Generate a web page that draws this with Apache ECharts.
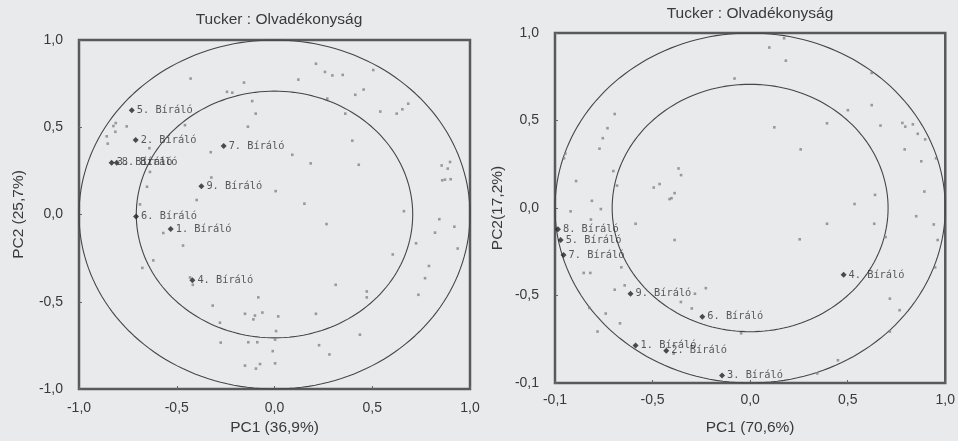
<!DOCTYPE html>
<html>
<head>
<meta charset="utf-8">
<script src="https://cdn.jsdelivr.net/npm/echarts@6/dist/echarts.min.js"></script>
<style>
html,body{margin:0;padding:0;background:#e9eaec;}
#c{width:958px;height:441px;}
</style>
</head>
<body>
<div id="c"></div>
<script>
// ---------- data ----------
const chartTitle = 'Tucker : Olvadékonyság';
const leftXName = 'PC1 (36,9%)';
const leftYName = 'PC2 (25,7%)';
const rightXName = 'PC1 (70,6%)';
const rightYName = 'PC2(17,2%)';
const leftXTickLabels = ['-1,0', '-0,5', '0,0', '0,5', '1,0'];
const leftYTickLabels = ['-1,0', '-0,5', '0,0', '0,5', '1,0'];
const rightXTickLabels = ['-0,1', '-0,5', '0,0', '0,5', '1,0'];
const rightYTickLabels = ['-0,1', '-0,5', '0,0', '0,5', '1,0'];
const circleRadii = [1, 0.707];

const assessorNames = ['1. Bíráló', '2. Bíráló', '3. Bíráló', '4. Bíráló', '5. Bíráló',
  '6. Bíráló', '7. Bíráló', '8. Bíráló', '9. Bíráló'];
const leftAssessors = [[-0.531, -0.083], [-0.710, 0.427], [-0.833, 0.297], [-0.420, -0.377],
  [-0.730, 0.597], [-0.708, -0.011], [-0.260, 0.393], [-0.807, 0.297], [-0.374, 0.162]];
const rightAssessors = [[-0.587, -0.785], [-0.430, -0.815], [-0.144, -0.957], [0.479, -0.382],
  [-0.971, -0.183], [-0.245, -0.621], [-0.956, -0.269], [-0.985, -0.122], [-0.613, -0.490]];

const leftVariables = [
  [-0.429, 0.779], [-0.156, 0.756], [-0.243, 0.703], [-0.216, 0.698], [-0.114, 0.650],
  [-0.096, 0.578], [-0.136, 0.503], [0.122, 0.773], [0.212, 0.864], [0.258, 0.817],
  [0.296, 0.797], [0.349, 0.800], [0.505, 0.828], [0.456, 0.716], [0.413, 0.686],
  [0.270, 0.664], [0.362, 0.578], [0.541, 0.590], [0.625, 0.578], [0.654, 0.603],
  [0.684, 0.635], [0.398, 0.423], [0.431, 0.285], [0.185, 0.293], [0.091, 0.342],
  [0.006, 0.134], [0.153, 0.062], [0.855, 0.281], [0.898, 0.301], [0.886, 0.263],
  [0.858, 0.196], [0.901, 0.202], [0.872, 0.200], [0.662, 0.019], [-0.812, 0.524],
  [-0.824, 0.507], [-0.814, 0.474], [-0.756, 0.505], [-0.858, 0.448], [-0.853, 0.406],
  [-0.640, 0.380], [-0.637, 0.244], [-0.652, 0.159], [-0.458, 0.512], [-0.326, 0.357],
  [-0.323, 0.212], [-0.398, 0.083], [-0.688, 0.058], [-0.569, -0.106], [-0.468, -0.178],
  [-0.620, -0.263], [-0.676, -0.306], [-0.432, -0.361], [-0.418, -0.403], [-0.083, -0.475],
  [-0.316, -0.522], [-0.151, -0.569], [-0.100, -0.579], [-0.062, -0.562], [-0.108, -0.601],
  [0.019, -0.584], [-0.279, -0.620], [0.008, -0.668], [0.003, -0.717], [-0.275, -0.734],
  [-0.134, -0.732], [-0.088, -0.732], [-0.009, -0.783], [-0.151, -0.866], [-0.095, -0.883],
  [-0.074, -0.857], [0.003, -0.853], [0.212, -0.569], [0.228, -0.749], [0.281, -0.802],
  [0.313, -0.403], [0.266, -0.055], [0.472, -0.441], [0.472, -0.475], [0.437, -0.689],
  [0.605, -0.229], [0.724, -0.165], [0.736, -0.460], [0.770, -0.365], [0.790, -0.295],
  [0.821, -0.104], [0.843, -0.027], [0.920, -0.070], [0.937, -0.195]
];

const rightVariables = [
  [0.098, 0.917], [0.183, 0.842], [-0.080, 0.740], [0.174, 0.970], [0.623, 0.772],
  [0.623, 0.588], [0.501, 0.559], [0.124, 0.461], [0.394, 0.484], [0.668, 0.471],
  [0.780, 0.486], [0.795, 0.465], [0.834, 0.478], [0.859, 0.424], [0.897, 0.392],
  [0.259, 0.335], [0.792, 0.335], [0.877, 0.267], [0.953, 0.284], [0.893, 0.094],
  [0.640, 0.075], [0.535, 0.023], [-0.694, 0.537], [-0.731, 0.456], [-0.755, 0.399],
  [-0.772, 0.339], [-0.947, 0.311], [-0.954, 0.284], [-0.701, 0.211], [-0.892, 0.154],
  [-0.682, 0.128], [-0.811, 0.041], [-0.765, -0.006], [-0.920, -0.019], [-0.367, 0.226],
  [-0.354, 0.188], [-0.494, 0.117], [-0.464, 0.137], [-0.387, 0.085], [-0.413, 0.051],
  [-0.403, 0.056], [-0.587, -0.090], [-0.387, -0.183], [-0.660, -0.339], [-0.853, -0.371],
  [-0.819, -0.371], [-0.694, -0.467], [-0.643, -0.442], [-0.283, -0.490], [-0.227, -0.458],
  [-0.355, -0.537], [-0.299, -0.574], [-0.824, -0.571], [-0.740, -0.603], [-0.667, -0.659],
  [-0.782, -0.706], [-0.392, -0.832], [-0.046, -0.716], [0.450, -0.870], [0.254, -0.179],
  [0.394, -0.090], [0.636, -0.090], [0.694, -0.166], [0.851, -0.047], [0.941, -0.094],
  [0.961, -0.183], [0.948, -0.339], [0.716, -0.518], [0.766, -0.584], [0.716, -0.706],
  [0.344, -0.945], [-0.816, -0.066]
];

// ---------- chart ----------
const AXMIN = -1, AXMAX = 1, STEP = 0.5;
function labelFmt(labels) {
  return function (v) { return labels[Math.round((v - AXMIN) / STEP)] || ''; };
}
function circlePoints(r) {
  const pts = [];
  for (let i = 0; i <= 360; i += 2) {
    const a = i * Math.PI / 180;
    pts.push([r * Math.cos(a), r * Math.sin(a)]);
  }
  return pts;
}
const textCol = '#3a3a3a';
const font = 'Liberation Sans, Arial, sans-serif';

function makeAxis(gridIndex, labels, name, margin, gap, isY) {
  const ax = {
    type: 'value', gridIndex, min: AXMIN, max: AXMAX, interval: STEP,
    name, nameLocation: 'middle', nameGap: gap,
    nameTextStyle: { color: textCol, fontSize: 15.5, fontFamily: font },
    axisLine: { show: false, onZero: false },
    axisTick: { show: true, inside: true, length: 3, lineStyle: { color: '#666' } },
    splitLine: { show: false },
    axisLabel: { formatter: labelFmt(labels), color: textCol, fontSize: 14, fontFamily: font, margin }
  };
  if (isY) ax.nameRotate = 90;
  return ax;
}

const series = [];
function addPanel(idx, variables, assessors) {
  circleRadii.forEach(function (r) {
    series.push({
      type: 'line', xAxisIndex: idx, yAxisIndex: idx, data: circlePoints(r),
      showSymbol: false, silent: true, smooth: false,
      lineStyle: { color: '#464646', width: 1.1 }, z: 2
    });
  });
  series.push({
    type: 'scatter', xAxisIndex: idx, yAxisIndex: idx, data: variables,
    symbol: 'rect', symbolSize: 2.6, silent: true,
    itemStyle: { color: '#858585' }, z: 3
  });
  series.push({
    type: 'scatter', xAxisIndex: idx, yAxisIndex: idx,
    data: assessors.map(function (p, i) { return { value: p, name: assessorNames[i] }; }),
    symbol: 'diamond', symbolSize: 6, silent: true,
    itemStyle: { color: '#222' }, z: 4,
    label: {
      show: true, position: 'right', distance: 2, formatter: '{b}',
      color: '#333', fontSize: 10.3, fontFamily: 'DejaVu Sans Mono, monospace'
    }
  });
}
addPanel(0, leftVariables, leftAssessors);
addPanel(1, rightVariables, rightAssessors);

const chart = echarts.init(document.getElementById('c'), null, { renderer: 'canvas' });
chart.setOption({
  backgroundColor: '#e9eaec',
  animation: false,
  title: [
    { text: chartTitle, left: 279, top: 12, textAlign: 'center', padding: 0,
      textStyle: { color: textCol, fontSize: 15.5, fontWeight: 'normal', fontFamily: font } },
    { text: chartTitle, left: 750, top: 6, textAlign: 'center', padding: 0,
      textStyle: { color: textCol, fontSize: 15.5, fontWeight: 'normal', fontFamily: font } }
  ],
  grid: [
    { left: 79, top: 40, width: 391, height: 353, show: true, borderColor: '#5a5a5a', borderWidth: 2.5, backgroundColor: 'transparent' },
    { left: 555, top: 33, width: 394, height: 354, show: true, borderColor: '#5a5a5a', borderWidth: 2.5, backgroundColor: 'transparent' }
  ],
  xAxis: [
    makeAxis(0, leftXTickLabels, leftXName, 12, 31, false),
    makeAxis(1, rightXTickLabels, rightXName, 10, 37, false)
  ],
  yAxis: [
    makeAxis(0, leftYTickLabels, leftYName, 16, 52, true),
    makeAxis(1, rightYTickLabels, rightYName, 16, 49, true)
  ],
  series
});
</script>
</body>
</html>
